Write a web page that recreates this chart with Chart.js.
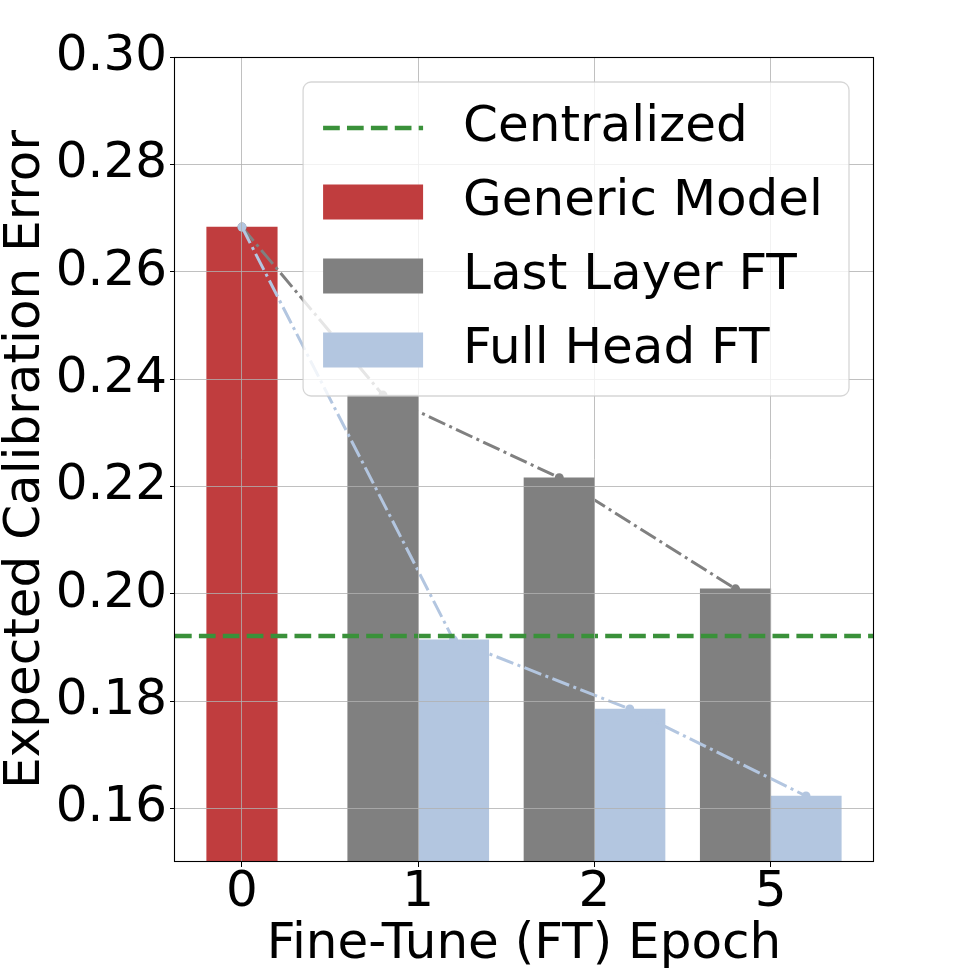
<!DOCTYPE html>
<html>
<head>
<meta charset="utf-8">
<title>Expected Calibration Error by fine-tune epoch</title>
<script src="https://cdn.jsdelivr.net/npm/chart.js@4.4.1/dist/chart.umd.min.js"></script>
<style>
  html, body { margin: 0; padding: 0; background: #fff; }
  #wrap { width: 969px; height: 969px; }
</style>
</head>
<body>
<div id="wrap"><canvas id="eceChart" width="969" height="969"></canvas></div>
<script>
// values
var categories = ['0', '1', '2', '5'];
var genericModel = [0.2683];
var lastLayerFT = [0.2370, 0.2216, 0.2009];
var fullHeadFT = [0.1914, 0.1785, 0.1623];
var centralized = 0.1921;
var yTicks = [0.16, 0.18, 0.20, 0.22, 0.24, 0.26, 0.28, 0.30];

var xMin = -0.38, xMax = 3.58, yMin = 0.15, yMax = 0.30;
var barShift = 0.2; // FT bars sit either side of their tick

var FONT = 'DejaVu Sans';
var FSIZE = 50;
var red = 'rgb(192, 61, 62)';
var gray = 'rgb(128, 128, 128)';
var lightBlue = 'rgb(179, 198, 224)';
var green = 'rgb(58, 145, 58)';
var dashDot = [18, 4.5, 3, 4.5];

var genericPts = genericModel.map(function (v, i) { return {x: i, y: v}; });
var lastPts = lastLayerFT.map(function (v, i) { return {x: i + 1 - barShift, y: v}; });
var fullPts = fullHeadFT.map(function (v, i) { return {x: i + 1 + barShift, y: v}; });

// box round the plot area (all four spines)
var framePlugin = {
    id: 'frame',
    afterDraw: function (chart) {
        var a = chart.chartArea, ctx = chart.ctx;
        ctx.save();
        ctx.strokeStyle = '#000';
        ctx.lineWidth = 1.1;
        ctx.strokeRect(Math.round(a.left) - 0.5, Math.round(a.top) + 0.5,
            Math.round(a.right - a.left) + 1, Math.round(a.bottom - a.top) - 1);
        ctx.restore();
    }
};

// legend drawn inside the axes, upper right
var legendPlugin = {
    id: 'insideLegend',
    afterDraw: function (chart) {
        var ctx = chart.ctx, a = chart.chartArea;
        var items = chart.data.datasets.filter(function (d) { return d.inLegend; });
        var pad = 20, hLen = 100, hGap = 40, rowH = 74, textH = 52, r = 8;
        ctx.save();
        ctx.font = FSIZE + 'px "' + FONT + '"';
        var textW = Math.max.apply(null, items.map(function (d) { return ctx.measureText(d.label).width; }));
        var w = pad * 2 + hLen + hGap + textW + 6;
        var h = pad * 2 + rowH * (items.length - 1) + textH;
        var x = a.right - 24 - w, y = a.top + 25;

        ctx.beginPath();
        ctx.moveTo(x + r, y);
        ctx.arcTo(x + w, y, x + w, y + h, r);
        ctx.arcTo(x + w, y + h, x, y + h, r);
        ctx.arcTo(x, y + h, x, y, r);
        ctx.arcTo(x, y, x + w, y, r);
        ctx.closePath();
        ctx.fillStyle = 'rgba(255,255,255,0.8)';
        ctx.fill();
        ctx.strokeStyle = 'rgba(204,204,204,0.8)';
        ctx.lineWidth = 1.3;
        ctx.stroke();

        items.forEach(function (d, i) {
            var cy = y + pad + textH / 2 + i * rowH;
            if (d.type === 'line') {
                ctx.beginPath();
                ctx.setLineDash(d.borderDash || []);
                ctx.strokeStyle = d.borderColor;
                ctx.lineWidth = d.borderWidth;
                ctx.moveTo(x + pad, cy);
                ctx.lineTo(x + pad + hLen, cy);
                ctx.stroke();
                ctx.setLineDash([]);
            } else {
                ctx.fillStyle = d.backgroundColor;
                ctx.fillRect(x + pad, cy - 17.5, hLen, 35);
            }
            ctx.fillStyle = '#000';
            ctx.textBaseline = 'middle';
            ctx.textAlign = 'left';
            ctx.fillText(d.label, x + pad + hLen + hGap, cy);
        });
        ctx.restore();
    }
};

var ctx = document.getElementById('eceChart').getContext('2d');
var chart = new Chart(ctx, {
    type: 'bar',
    data: {
        datasets: [{
            type: 'line',
            label: 'Centralized',
            inLegend: true,
            data: [{x: xMin, y: centralized}, {x: xMax, y: centralized}],
            borderColor: green,
            borderWidth: 4.5,
            borderDash: [16.7, 7.2],
            pointRadius: 0,
            fill: false,
            order: 0
        }, {
            label: 'Generic Model',
            inLegend: true,
            data: genericPts,
            backgroundColor: red,
            borderWidth: 0,
            grouped: false,
            clip: 0,
            order: 3
        }, {
            label: 'Last Layer FT',
            inLegend: true,
            data: lastPts,
            backgroundColor: gray,
            borderWidth: 0,
            grouped: false,
            clip: 0,
            order: 3
        }, {
            label: 'Full Head FT',
            inLegend: true,
            data: fullPts,
            backgroundColor: lightBlue,
            borderWidth: 0,
            grouped: false,
            clip: 0,
            order: 3
        }, {
            type: 'line',
            label: 'Full Head FT trend',
            data: [genericPts[0]].concat(fullPts),
            borderColor: lightBlue,
            backgroundColor: lightBlue,
            borderWidth: 3,
            borderDash: dashDot,
            pointRadius: 4.5,
            pointBorderWidth: 0,
            tension: 0,
            fill: false,
            order: 1
        }, {
            type: 'line',
            label: 'Last Layer FT trend',
            data: [genericPts[0]].concat(lastPts),
            borderColor: gray,
            backgroundColor: gray,
            borderWidth: 3,
            borderDash: dashDot,
            pointRadius: 4.5,
            pointBorderWidth: 0,
            tension: 0,
            fill: false,
            order: 2
        }]
    },
    options: {
        responsive: false,
        animation: false,
        layout: { padding: { top: 57, right: 96, bottom: 0, left: 0 } },
        datasets: {
            bar: { barPercentage: 1, categoryPercentage: 1 }
        },
        plugins: {
            legend: { display: false },
            tooltip: { enabled: false }
        },
        scales: {
            x: {
                type: 'linear',
                min: xMin,
                max: xMax,
                offset: false,
                grid: { z: 1, offset: false, color: 'rgba(176,176,176,0.8)', lineWidth: 1,
                        tickLength: 5, tickColor: '#000', tickWidth: 1 },
                border: { display: false },
                afterBuildTicks: function (scale) {
                    scale.ticks = categories.map(function (c, i) { return {value: i}; });
                },
                afterFit: function (scale) { scale.height = 107; },
                ticks: {
                    color: '#000',
                    padding: 1,
                    maxRotation: 0,
                    font: { family: FONT, size: FSIZE, lineHeight: 1 },
                    callback: function (value) { return categories[value]; }
                },
                title: {
                    display: true,
                    text: 'Fine-Tune (FT) Epoch',
                    color: '#000',
                    font: { family: FONT, size: FSIZE, lineHeight: 1 },
                    padding: { top: 0, bottom: -1 }
                }
            },
            y: {
                type: 'linear',
                min: yMin,
                max: yMax,
                beginAtZero: false,
                grid: { z: 1, color: 'rgba(176,176,176,0.8)', lineWidth: 1,
                        tickLength: 5, tickColor: '#000', tickWidth: 1 },
                border: { display: false },
                afterBuildTicks: function (scale) {
                    scale.ticks = yTicks.map(function (v) { return {value: v}; });
                },
                afterFit: function (scale) { scale.width = 175; },
                ticks: {
                    color: '#000',
                    padding: 3,
                    font: { family: FONT, size: FSIZE, lineHeight: 1 },
                    callback: function (value) { return value.toFixed(2); }
                },
                title: {
                    display: true,
                    text: 'Expected Calibration Error',
                    color: '#000',
                    font: { family: FONT, size: FSIZE, lineHeight: 1 },
                    padding: { top: 1, bottom: 0 }
                }
            }
        }
    },
    plugins: [framePlugin, legendPlugin]
});
</script>
</body>
</html>
